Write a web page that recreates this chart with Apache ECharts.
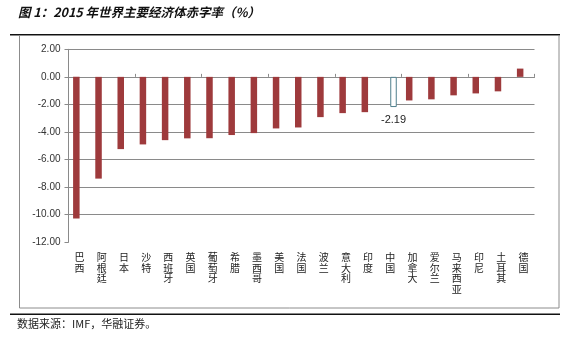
<!DOCTYPE html>
<html>
<head>
<meta charset="utf-8">
<script src="https://cdn.jsdelivr.net/npm/echarts@6/dist/echarts.min.js"></script>
<style>
  html, body { margin: 0; padding: 0; background: #fff; }
  #chart { width: 570px; height: 338px; }
</style>
</head>
<body>
<div id="chart"></div>
<script>
// 2015 fiscal balance (% of GDP) for major economies
const countries = ['巴西', '阿根廷', '日本', '沙特', '西班牙', '英国', '葡萄牙', '希腊', '墨西哥', '美国', '法国',
                   '波兰', '意大利', '印度', '中国', '加拿大', '爱尔兰', '马来西亚', '印尼', '土耳其', '德国'];
const otherDeficit = [-10.27, -7.38, -5.24, -4.90, -4.59, -4.46, -4.45, -4.22, -4.08, -3.74, -3.67,
                      -2.92, -2.63, -2.56, null, -1.71, -1.63, -1.34, -1.20, -1.05, 0.60];
const chinaDeficit = [null, null, null, null, null, null, null, null, null, null, null,
                      null, null, null, -2.19, null, null, null, null, null, null];
const yMin = -12;
const yMax = 2;
const yStep = 2;

const gridGray = '#8a8a8a';
const chart = echarts.init(document.getElementById('chart'), null, { renderer: 'canvas' });

chart.setOption({
  animation: false,
  backgroundColor: '#fff',
  graphic: [
    { type: 'text', left: 18, top: 6,
      style: { text: '图 1：2015 年世界主要经济体赤字率（%）', font: 'italic bold 12.5px "Noto Sans CJK SC"', fill: '#111' } },
    { type: 'rect', shape: { x: 10, y: 34, width: 550, height: 1.5 }, style: { fill: '#111' } },
    { type: 'rect', shape: { x: 19.5, y: 35.5, width: 539.5, height: 272.5 },
      style: { fill: 'none', stroke: '#8c8c8c', lineWidth: 1 } },
    { type: 'rect', shape: { x: 10, y: 313.5, width: 550, height: 1.5 }, style: { fill: '#111' } },
    { type: 'text', left: 17, top: 318,
      style: { text: '数据来源：IMF，华融证券。', font: '11px "Noto Sans CJK SC"', fill: '#222' } }
  ],
  grid: { left: 68.5, right: 35.5, top: 49.3, bottom: 95.7, containLabel: false },
  xAxis: [
    {
      type: 'category', data: countries, position: 'bottom',
      axisLine: { show: false, onZero: false },
      axisTick: { show: false },
      axisLabel: {
        interval: 0, margin: 10, fontSize: 10, lineHeight: 10.5, color: '#222',
        fontFamily: '"Noto Sans CJK SC"', verticalAlign: 'top',
        formatter: v => v.split('').join('\n')
      }
    },
    {
      type: 'category', data: countries, position: 'top',
      axisLine: { show: true, onZero: true, lineStyle: { color: gridGray, width: 1 } },
      axisTick: { show: true, inside: false, length: 3, lineStyle: { color: gridGray } },
      axisLabel: { show: false }
    }
  ],
  yAxis: {
    type: 'value', min: yMin, max: yMax, interval: yStep,
    axisLine: { show: true, lineStyle: { color: gridGray } },
    axisTick: { show: true, length: 4, lineStyle: { color: gridGray } },
    axisLabel: { formatter: v => v.toFixed(2), fontSize: 10, color: '#333', margin: 8,
                 fontFamily: '"Liberation Sans", Arial, sans-serif' },
    splitLine: { show: true, showMinLine: false, lineStyle: { color: gridGray, width: 1 } }
  },
  series: [
    {
      type: 'bar', xAxisIndex: 0, data: otherDeficit, barWidth: 6.5, barGap: '0%',
      itemStyle: { color: '#9e3a3c' }
    },
    {
      type: 'bar', xAxisIndex: 0, data: chinaDeficit, barWidth: 6.5, barGap: '0%',
      itemStyle: { color: '#ffffff', borderColor: '#4f7f8c', borderWidth: 1 },
      label: {
        show: true, position: 'bottom', distance: 7, fontSize: 11, color: '#222',
        fontFamily: '"Liberation Sans", Arial, sans-serif',
        formatter: p => p.value.toFixed(2)
      }
    }
  ]
});
</script>
</body>
</html>
